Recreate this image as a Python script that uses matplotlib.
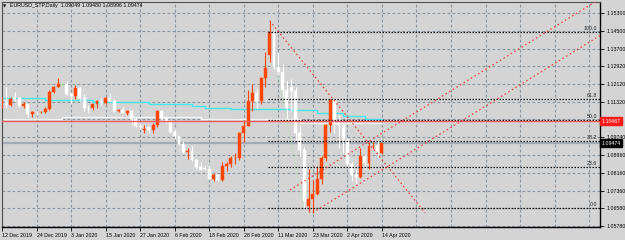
import matplotlib
matplotlib.use("Agg")
import matplotlib.pyplot as plt

# ---------------- data ----------------
dates = ['12 Dec 2019', '24 Dec 2019', '3 Jan 2020', '15 Jan 2020', '27 Jan 2020', '6 Feb 2020',
         '18 Feb 2020', '28 Feb 2020', '11 Mar 2020', '23 Mar 2020', '2 Apr 2020', '14 Apr 2020']

opens = [1.1129, 1.1131, 1.1120, 1.1153, 1.1150, 1.1113, 1.1122, 1.1079, 1.1089, 1.1088,
         1.1089, 1.1100, 1.1178, 1.1200, 1.1213, 1.1213, 1.1170, 1.1160, 1.1196, 1.1152,
         1.1105, 1.1104, 1.1121, 1.1135, 1.1127, 1.1151, 1.1136, 1.1091, 1.1095, 1.1083,
         1.1093, 1.1055, 1.1025, 1.1005, 1.1020, 1.1008, 1.1030, 1.1090, 1.1062, 1.1045,
         1.1000, 1.0981, 1.0945, 1.0910, 1.0915, 1.0872, 1.0840, 1.0838, 1.0834, 1.0790,
         1.0805, 1.0783, 1.0846, 1.0853, 1.0880, 1.0882, 1.0994, 1.1026, 1.1137, 1.1174,
         1.1135, 1.1240, 1.1342, 1.1447, 1.1287, 1.1267, 1.1186, 1.1200, 1.1180, 1.0993,
         1.0916, 1.0666, 1.0697, 1.0722, 1.0790, 1.0882, 1.1030, 1.1141, 1.1040, 1.1031,
         1.0963, 1.0857, 1.0808, 1.0795, 1.0891, 1.0860, 1.0934, 1.0937, 1.09049]
highs = [1.1155, 1.1200, 1.1155, 1.1175, 1.1153, 1.1130, 1.1125, 1.1093, 1.1091, 1.1093,
         1.1111, 1.1188, 1.1203, 1.1239, 1.1218, 1.1226, 1.1174, 1.1206, 1.1198, 1.1166,
         1.1118, 1.1125, 1.1140, 1.1150, 1.1153, 1.1173, 1.1146, 1.1100, 1.1112, 1.1096,
         1.1096, 1.1066, 1.1038, 1.1030, 1.1025, 1.1040, 1.1096, 1.1095, 1.1070, 1.1048,
         1.1013, 1.0982, 1.0958, 1.0925, 1.0935, 1.0880, 1.0863, 1.0848, 1.0850, 1.0813,
         1.0812, 1.0863, 1.0866, 1.0891, 1.0903, 1.1000, 1.1053, 1.1185, 1.1213, 1.1192,
         1.1245, 1.1355, 1.1495, 1.1456, 1.1357, 1.1304, 1.1228, 1.1236, 1.1197, 1.1028,
         1.0932, 1.0831, 1.0783, 1.0845, 1.0889, 1.1034, 1.1147, 1.1145, 1.1076, 1.1034,
         1.0972, 1.0862, 1.0833, 1.0925, 1.0895, 1.0952, 1.0952, 1.0956, 1.09480]
lows = [1.1106, 1.1107, 1.1114, 1.1137, 1.1110, 1.1105, 1.1067, 1.1066, 1.1075, 1.1085,
        1.1085, 1.1098, 1.1172, 1.1200, 1.1210, 1.1164, 1.1128, 1.1147, 1.1135, 1.1093,
        1.1085, 1.1095, 1.1107, 1.1117, 1.1123, 1.1134, 1.1086, 1.1086, 1.1081, 1.1076,
        1.1036, 1.1020, 1.1010, 1.0993, 1.0993, 1.0992, 1.1019, 1.1050, 1.1038, 1.0993,
        1.0973, 1.0940, 1.0902, 1.0879, 1.0870, 1.0833, 1.0827, 1.0830, 1.0787, 1.0778,
        1.0778, 1.0779, 1.0825, 1.0840, 1.0856, 1.0873, 1.0953, 1.1024, 1.1093, 1.1105,
        1.1125, 1.1200, 1.1310, 1.1280, 1.1255, 1.1154, 1.1053, 1.1090, 1.0958, 1.0889,
        1.0655, 1.0640, 1.0636, 1.0716, 1.0767, 1.0867, 1.0997, 1.0993, 1.0925, 1.0903,
        1.0845, 1.0778, 1.0768, 1.0794, 1.0831, 1.0832, 1.0922, 1.0885, 1.08996]
closes = [1.1131, 1.1120, 1.1144, 1.1146, 1.1113, 1.1122, 1.1079, 1.1089, 1.1087, 1.1089,
          1.1100, 1.1178, 1.1200, 1.1212, 1.1213, 1.1170, 1.1160, 1.1196, 1.1152, 1.1105,
          1.1104, 1.1121, 1.1135, 1.1127, 1.1151, 1.1136, 1.1091, 1.1095, 1.1083, 1.1093,
          1.1055, 1.1025, 1.1020, 1.1012, 1.1008, 1.1030, 1.1090, 1.1062, 1.1045, 1.1000,
          1.0981, 1.0945, 1.0910, 1.0915, 1.0872, 1.0840, 1.0830, 1.0834, 1.0790, 1.0805,
          1.0783, 1.0848, 1.0853, 1.0880, 1.0882, 1.0994, 1.1026, 1.1137, 1.1174, 1.1135,
          1.1240, 1.1285, 1.1447, 1.1287, 1.1267, 1.1186, 1.1106, 1.1180, 1.0993, 1.0916,
          1.0690, 1.0697, 1.0722, 1.0790, 1.0882, 1.1030, 1.1141, 1.1040, 1.1031, 1.0963,
          1.0857, 1.0808, 1.0795, 1.0891, 1.0860, 1.0934, 1.0937, 1.0913, 1.09474]

# stepped moving averages (bar where each step starts, value)
cyan_steps_x = [0, 10, 21, 34, 44, 47, 53, 67, 73, 79, 84, 88]
cyan_steps_y = [1.1150, 1.1141, 1.1132, 1.1123, 1.1114, 1.1105, 1.1101, 1.1096, 1.1083, 1.1068, 1.1058, 1.1058]
white_steps_x = [0, 14, 46, 69, 88]
white_steps_y = [1.1058, 1.1066, 1.1056, 1.1040, 1.1040]

price_ticks = [1.15300, 1.14500, 1.13700, 1.12920, 1.12120, 1.11320, 1.10540,
               1.09740, 1.08960, 1.08160, 1.07360, 1.06580, 1.05780]
price_labels = ['1.15300', '1.14500', '1.13700', '1.12920', '1.12120', '1.11320', '',
                '1.09740', '1.08960', '1.08160', '1.07360', '1.06580', '1.05780']

fib_start_bar = 61.7
fib_low, fib_high = 1.0657, 1.1447
fib_levels = [0.0, 23.6, 38.2, 50.0, 61.8, 100.0]

red_level = 1.10467
bid = 1.09474

# trend lines (bar, price)
down_line = [(62, 1.1495), (98, 1.0636)]
chan_upper = [(66.7, 1.0739), (140, 1.1611)]
chan_lower = [(72, 1.0638), (140, 1.1447)]
green_line = [(62.1, 1.1450), (69.8, 1.0663)]

title = "EURUSD_STP,Daily  1.09049 1.09480 1.08996 1.09474"

# ---------------- drawing ----------------
BG = '#d4d4d4'
GRID = '#8a949e'
BULL = '#ff4500'
BEAR = '#ffffff'
FONT = ['Liberation Sans', 'DejaVu Sans']
FS = 3.8

plt.rcParams['font.family'] = FONT
fig = plt.figure(figsize=(6.25, 2.40), dpi=100, facecolor=BG)
ax = fig.add_axes([2/625, 13/240, 598/625, 225/240])
ax.set_facecolor(BG)

xmin, xmax = 0.08, 138.5
ymin, ymax = 1.05733, 1.15792
ax.set_xlim(xmin, xmax)
ax.set_ylim(ymin, ymax)

# grid
for p in price_ticks:
    ax.axhline(p, color=GRID, lw=0.8, ls=(0, (2.5, 2)), zorder=1)
for k in range(0, 18):
    ax.axvline(8 * k, color=GRID, lw=0.8, ls=(0, (2.5, 2)), zorder=1)

# moving averages
ax.step(cyan_steps_x, cyan_steps_y, where='post', color='#40e8f0', lw=1.0, zorder=2)
ax.step(white_steps_x, white_steps_y, where='post', color='#f4f4f4', lw=1.0, zorder=2)

# horizontal lines
ax.axhline(bid, color='#a4abb3', lw=1.6, zorder=2)

# candles
n = len(opens)
for i in range(n):
    o, h, l, c = opens[i], highs[i], lows[i], closes[i]
    if abs(c - o) < 0.00002:
        col = '#7cfc7c'
    elif c > o:
        col = BULL
    else:
        col = BEAR
    ax.vlines(i, l, h, color=col, lw=0.8, zorder=4)
    bot = min(o, c)
    hgt = max(abs(c - o), 0.00012)
    ax.bar(i, hgt, bottom=bot, width=0.68, color=col, edgecolor=col, lw=0.3, zorder=5)

# fibonacci levels
for lv in fib_levels:
    p = fib_low + (fib_high - fib_low) * lv / 100.0
    ax.plot([fib_start_bar, xmax], [p, p], color='#101010', lw=0.9, ls=(0, (1.2, 1.2)), zorder=6)
    ax.text(xmax - 0.6, p + 0.0004, f"{lv:.1f}", fontsize=FS, ha='right', va='bottom',
            color='#202020', zorder=7)

ax.axhline(red_level, color='#f05a5a', lw=1.0, zorder=6)

# trend lines
for ln, colr in [(down_line, '#f03c3c'), (chan_upper, '#f03c3c'), (chan_lower, '#f03c3c')]:
    ax.plot([ln[0][0], ln[1][0]], [ln[0][1], ln[1][1]], color=colr, lw=0.9,
            ls=(0, (1.2, 2.2)), zorder=6)
ax.plot([green_line[0][0], green_line[1][0]], [green_line[0][1], green_line[1][1]],
        color='#9be89b', lw=0.7, ls=(0, (1, 2)), zorder=3)

# axes styling
for s in ['left', 'top']:
    ax.spines[s].set_color('#505050')
    ax.spines[s].set_linewidth(0.8)
for s in ['right', 'bottom']:
    ax.spines[s].set_color('#000000')
    ax.spines[s].set_linewidth(1.0)

ax.yaxis.tick_right()
ax.set_yticks(price_ticks)
ax.set_yticklabels(price_labels)
ax.tick_params(axis='y', length=3, width=0.6, pad=1.5, labelsize=FS, colors='#000000')

ax.set_xticks([8 * k for k in range(len(dates))])
ax.set_xticklabels(dates, ha='left')
ax.tick_params(axis='x', length=3, width=0.6, pad=1.5, labelsize=FS, colors='#000000')

# price labels boxes on right
ax.text(1.002, red_level, '1.10467', transform=ax.get_yaxis_transform(), fontsize=FS,
        color='white', va='center', ha='left',
        bbox=dict(boxstyle='square,pad=0.3', fc='#ff1a1a', ec='#ff1a1a'), zorder=10,
        clip_on=False)
ax.text(1.002, bid, '1.09474', transform=ax.get_yaxis_transform(), fontsize=FS,
        color='white', va='center', ha='left',
        bbox=dict(boxstyle='square,pad=0.3', fc='#000000', ec='#000000'), zorder=10,
        clip_on=False)

# title
fig.text(3/625, 1 - 6/240, '\u25bc', fontsize=3.0, family=['DejaVu Sans'], va='center',
         ha='left', color='#000000')
fig.text(10/625, 1 - 6/240, title, fontsize=FS, va='center', ha='left', color='#000000')

fig.savefig('out.png', dpi=100, facecolor=BG)
